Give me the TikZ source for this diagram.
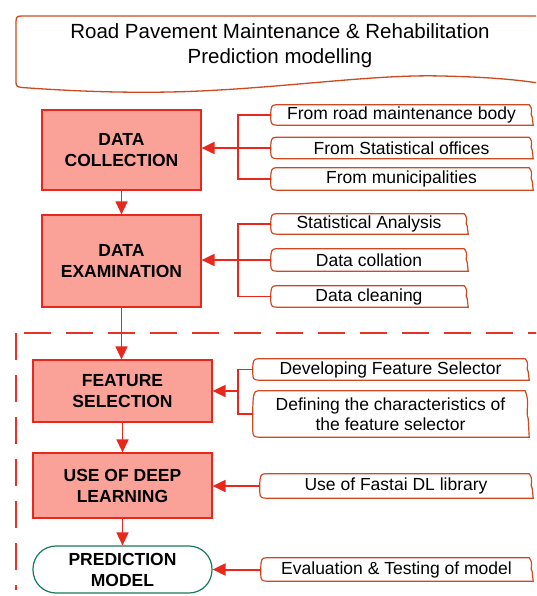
\documentclass[tikz,border=0pt]{standalone}
\usepackage{fontspec}
\setmainfont{Liberation Sans}
\usetikzlibrary{arrows.meta,calc}

\definecolor{stagered}{RGB}{232,40,28}
\definecolor{stagefill}{RGB}{250,162,152}
\definecolor{noteedge}{RGB}{204,74,30}
\definecolor{dashred}{RGB}{232,50,38}
\definecolor{modelgreen}{RGB}{24,122,84}

% outline with soft, slightly wavy left and right sides, drawn round a named node
\newcommand\noteoutline[1]{%
  \draw[noteline] let \p1=(#1.north west), \p2=(#1.south east), \n1={\y1-\y2} in
    ({\x1+5pt},\y1) -- ({\x2-3pt},\y1)
    .. controls ({\x2+2pt},{\y1-0.25*\n1}) and ({\x2-3pt},{\y1-0.45*\n1}) .. (\x2,{\y1-0.6*\n1})
    -- ({\x2+1pt},\y2) -- ({\x1+6pt},\y2)
    .. controls ({\x1+1pt},\y2) and (\x1,{\y2+2pt}) .. (\x1,{\y2+6pt})
    -- (\x1,{\y1-0.45*\n1})
    .. controls (\x1,{\y1-0.1*\n1}) and ({\x1+1pt},\y1) .. ({\x1+5pt},\y1) -- cycle;}

\begin{document}
\begin{tikzpicture}[x=1pt,y=-1pt,
  stagebox/.style={draw=stagered, fill=stagefill, line width=1.2pt, inner sep=0pt,
    align=center, text=black, font=\fontsize{17.5}{21}\selectfont\bfseries},
  notebox/.style={inner sep=0pt, align=center, text=black,
    font=\fontsize{17.5}{20.5}\selectfont},
  noteline/.style={draw=noteedge, line width=1.2pt},
  titleline/.style={draw=noteedge, line width=1.3pt},
  brace/.style={draw=stagered, line width=1.2pt},
  flow/.style={draw=stagered, line width=1.5pt, -{Triangle[length=13pt,width=12pt]}},
  sideflow/.style={flow, line width=2pt},
  dashline/.style={draw=dashred, line width=1.3pt, dash pattern=on 27pt off 15pt}
]
\useasboundingbox (0,0) rectangle (536,596);
\clip (0,0) rectangle (536,596);

% heading banner with wavy lower edge
\draw[titleline] (545,16) -- (22,16) .. controls (17,16) and (16,17) .. (16,22)
  -- (16,82) .. controls (16,86) and (17,87) .. (22,87.5)
  .. controls (70,91) and (120,93) .. (170,92)
  .. controls (270,90) and (370,74) .. (441,76)
  .. controls (490,77) and (520,80) .. (545,84);
\node[align=center, font=\fontsize{20.5}{25}\selectfont] (title) at (280,46)
  {Road Pavement Maintenance \& Rehabilitation\\Prediction modelling};

% dashed frame round the modelling stages
\draw[dashline, dash phase=-8pt] (16,333) -- (545,333);
\draw[dashline] (16,333) -- (16,590);

% main stages
\node[stagebox, minimum width=159pt, minimum height=80pt] (dc) at (121.5,150) {DATA\\COLLECTION};
\node[stagebox, minimum width=159pt, minimum height=92pt] (de) at (121.5,261) {DATA\\EXAMINATION};
\node[stagebox, minimum width=179pt, minimum height=62pt] (fs) at (122.5,391) {FEATURE\\SELECTION};
\node[stagebox, minimum width=179pt, minimum height=65pt] (dl) at (122.5,485.5) {USE OF DEEP\\LEARNING};
\node[stagebox, fill=white, draw=modelgreen, rounded corners=23pt,
  minimum width=179pt, minimum height=47pt] (pm) at (122.5,569.5) {PREDICTION\\MODEL};

% inputs to each stage
\node[notebox, minimum width=261pt, minimum height=20pt] (r1) at (401.5,115) {From road maintenance body};
\node[notebox, minimum width=261pt, minimum height=21pt] (r2) at (401.5,148) {From Statistical offices};
\node[notebox, minimum width=261pt, minimum height=22pt] (r3) at (401.5,179) {From municipalities};

\node[notebox, minimum width=196pt, minimum height=20pt] (s1) at (369,224) {Statistical Analysis};
\node[notebox, minimum width=196pt, minimum height=22pt] (s2) at (369,260) {Data collation};
\node[notebox, minimum width=196pt, minimum height=21pt] (s3) at (369,296.5) {Data cleaning};

\node[notebox, minimum width=275pt, minimum height=21pt] (f1) at (390.5,369.5) {Developing Feature Selector};
\node[notebox, minimum width=275pt, minimum height=46pt] (f2) at (390.5,414) {Defining the characteristics of\\the feature selector};

\node[notebox, minimum width=272pt, minimum height=24pt] (u1) at (396,486) {Use of Fastai DL library};
\node[notebox, minimum width=271pt, minimum height=23pt] (p1) at (396.5,569.5) {Evaluation \& Testing of model};

\foreach \nd in {r1,r2,r3,s1,s2,s3,f1,f2,u1,p1} {\noteoutline{\nd}}

% brackets gathering the inputs
\coordinate (k1) at (238,148);
\coordinate (k2) at (238,260);
\coordinate (k3) at (238,391);

\draw[brace] (r1.west) -| (k1) |- (r3.west);
\draw[brace] (r2.west) -- (k1);
\draw[sideflow] (k1) -- (k1 -| dc.east);

\draw[brace] (s1.west) -| (k2) |- (s3.west);
\draw[brace] (s2.west) -- (k2);
\draw[sideflow] (k2) -- (k2 -| de.east);

\draw[brace] (f1.west) -| (k3) |- (f2.west);
\draw[sideflow] (k3) -- (k3 -| fs.east);

\draw[sideflow] (u1.west) -- (u1.west -| dl.east);
\draw[sideflow] (p1.west) -- (p1.west -| pm.east);

% flow between stages
\draw[flow] (dc.south) -- (de.north);
\draw[flow] (de.south) -- (de.south |- fs.north);
\draw[flow] (fs.south) -- (dl.north);
\draw[flow] (dl.south) -- (pm.north);
\end{tikzpicture}
\end{document}
